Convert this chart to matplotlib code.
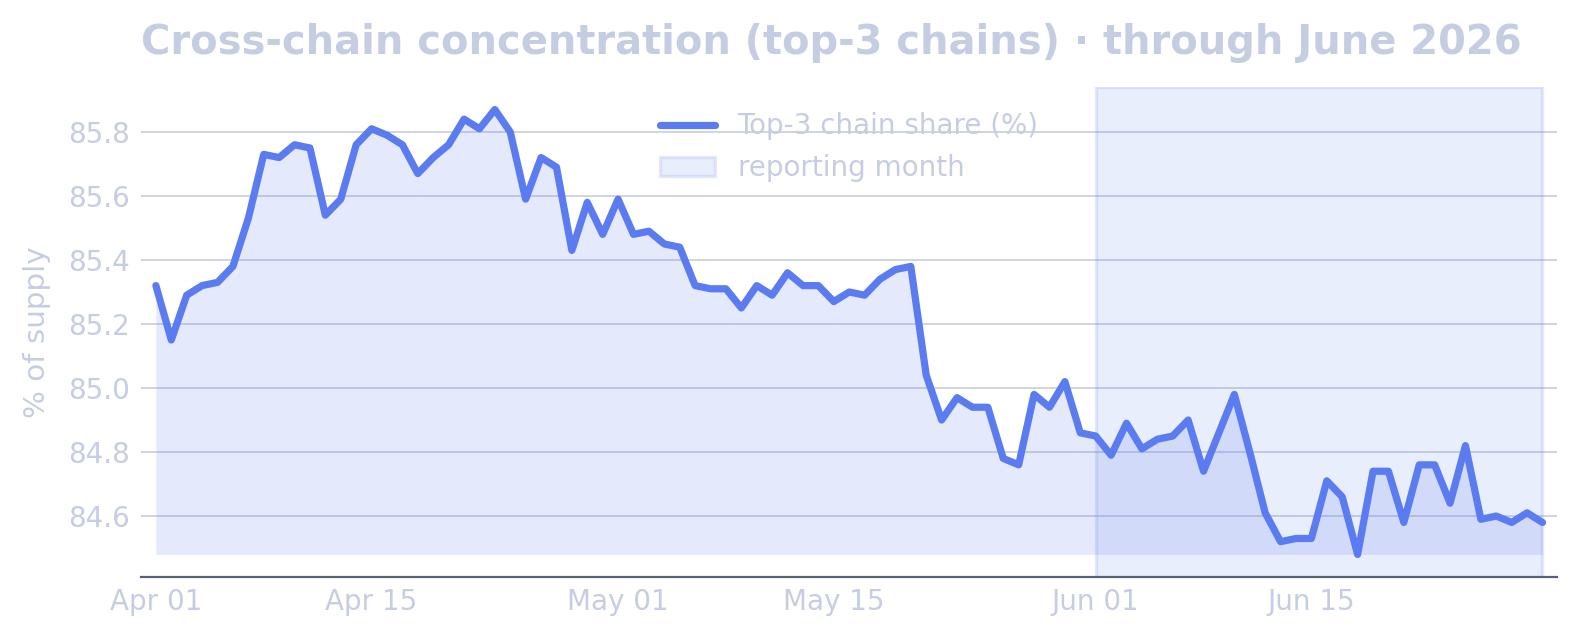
import numpy as np
import pandas as pd
import matplotlib
matplotlib.use("Agg")
import matplotlib.pyplot as plt
import matplotlib.dates as mdates

LINE = '#5b7cf0'
TEXT = '#c5cde2'
GRID = '#c3c8d8'
SPINE = '#566176'

# daily top-3 chain share, Apr 01 .. Jun 30 2026
dates = pd.date_range('2026-04-01', '2026-06-30', freq='D')
share = [
    85.32, 85.15, 85.29, 85.32, 85.33, 85.38, 85.53, 85.73, 85.72, 85.76,
    85.75, 85.54, 85.59, 85.76, 85.81, 85.79, 85.76, 85.67, 85.72, 85.76,
    85.84, 85.81, 85.87, 85.80, 85.59, 85.72, 85.69, 85.43, 85.58, 85.48,
    85.59, 85.48, 85.49, 85.45, 85.44, 85.32, 85.31, 85.31, 85.25, 85.32,
    85.29, 85.36, 85.32, 85.32, 85.27, 85.30, 85.29, 85.34, 85.37, 85.38,
    85.04, 84.90, 84.97, 84.94, 84.94, 84.78, 84.76, 84.98, 84.94, 85.02,
    84.86, 84.85, 84.79, 84.89, 84.81, 84.84, 84.85, 84.90, 84.74, 84.86,
    84.98, 84.80, 84.61, 84.52, 84.53, 84.53, 84.71, 84.66, 84.48, 84.74,
    84.74, 84.58, 84.76, 84.76, 84.64, 84.82, 84.59, 84.60, 84.58, 84.61,
    84.58,
]
span_start = '2026-06-01'
span_end = '2026-06-30'
tick_dates = ['2026-04-01', '2026-04-15', '2026-05-01', '2026-05-15',
              '2026-06-01', '2026-06-15']

y = np.array(share)

fig = plt.figure(figsize=(7.895, 3.205), dpi=200)
ax = fig.add_axes([0.0895, 0.1003, 0.8966, 0.7635])

ax.fill_between(dates, y, y.min(), color=LINE, alpha=0.16, lw=0, zorder=1)
ax.axvspan(pd.Timestamp(span_start), pd.Timestamp(span_end),
           facecolor=(0.357, 0.486, 0.941, 0.13), edgecolor=(0.357, 0.486, 0.941, 0.16),
           lw=1.2, zorder=1.5, label='reporting month')
ax.plot(dates, y, color=LINE, lw=2.6, solid_joinstyle='round',
        solid_capstyle='round', zorder=3, label='Top-3 chain share (%)')

ax.margins(x=0.0105, y=0.05)
ax.set_yticks([84.6, 84.8, 85.0, 85.2, 85.4, 85.6, 85.8])
ax.yaxis.set_major_formatter(plt.FormatStrFormatter('%.1f'))
ax.set_xticks(pd.to_datetime(tick_dates))
ax.xaxis.set_major_formatter(mdates.DateFormatter('%b %d'))

ax.grid(axis='y', color=GRID, lw=0.6, alpha=0.9, zorder=0)
ax.set_axisbelow(True)
for s in ['left', 'top', 'right']:
    ax.spines[s].set_visible(False)
ax.spines['bottom'].set_color(SPINE)
ax.spines['bottom'].set_linewidth(0.8)
ax.tick_params(length=0, pad=4.2, labelsize=10, colors=TEXT)

ax.set_ylabel('% of supply', fontsize=10.6, color=TEXT, labelpad=6)
ax.set_title('Cross-chain concentration (top-3 chains) · through June 2026',
             loc='left', fontsize=14.4, fontweight='bold', color=TEXT, pad=12)

h, l = ax.get_legend_handles_labels()
ax.legend(h[::-1], l[::-1], loc='upper center', frameon=False, fontsize=10,
          labelcolor=TEXT, handlelength=2.0)

fig.savefig('out.png', dpi=200)
